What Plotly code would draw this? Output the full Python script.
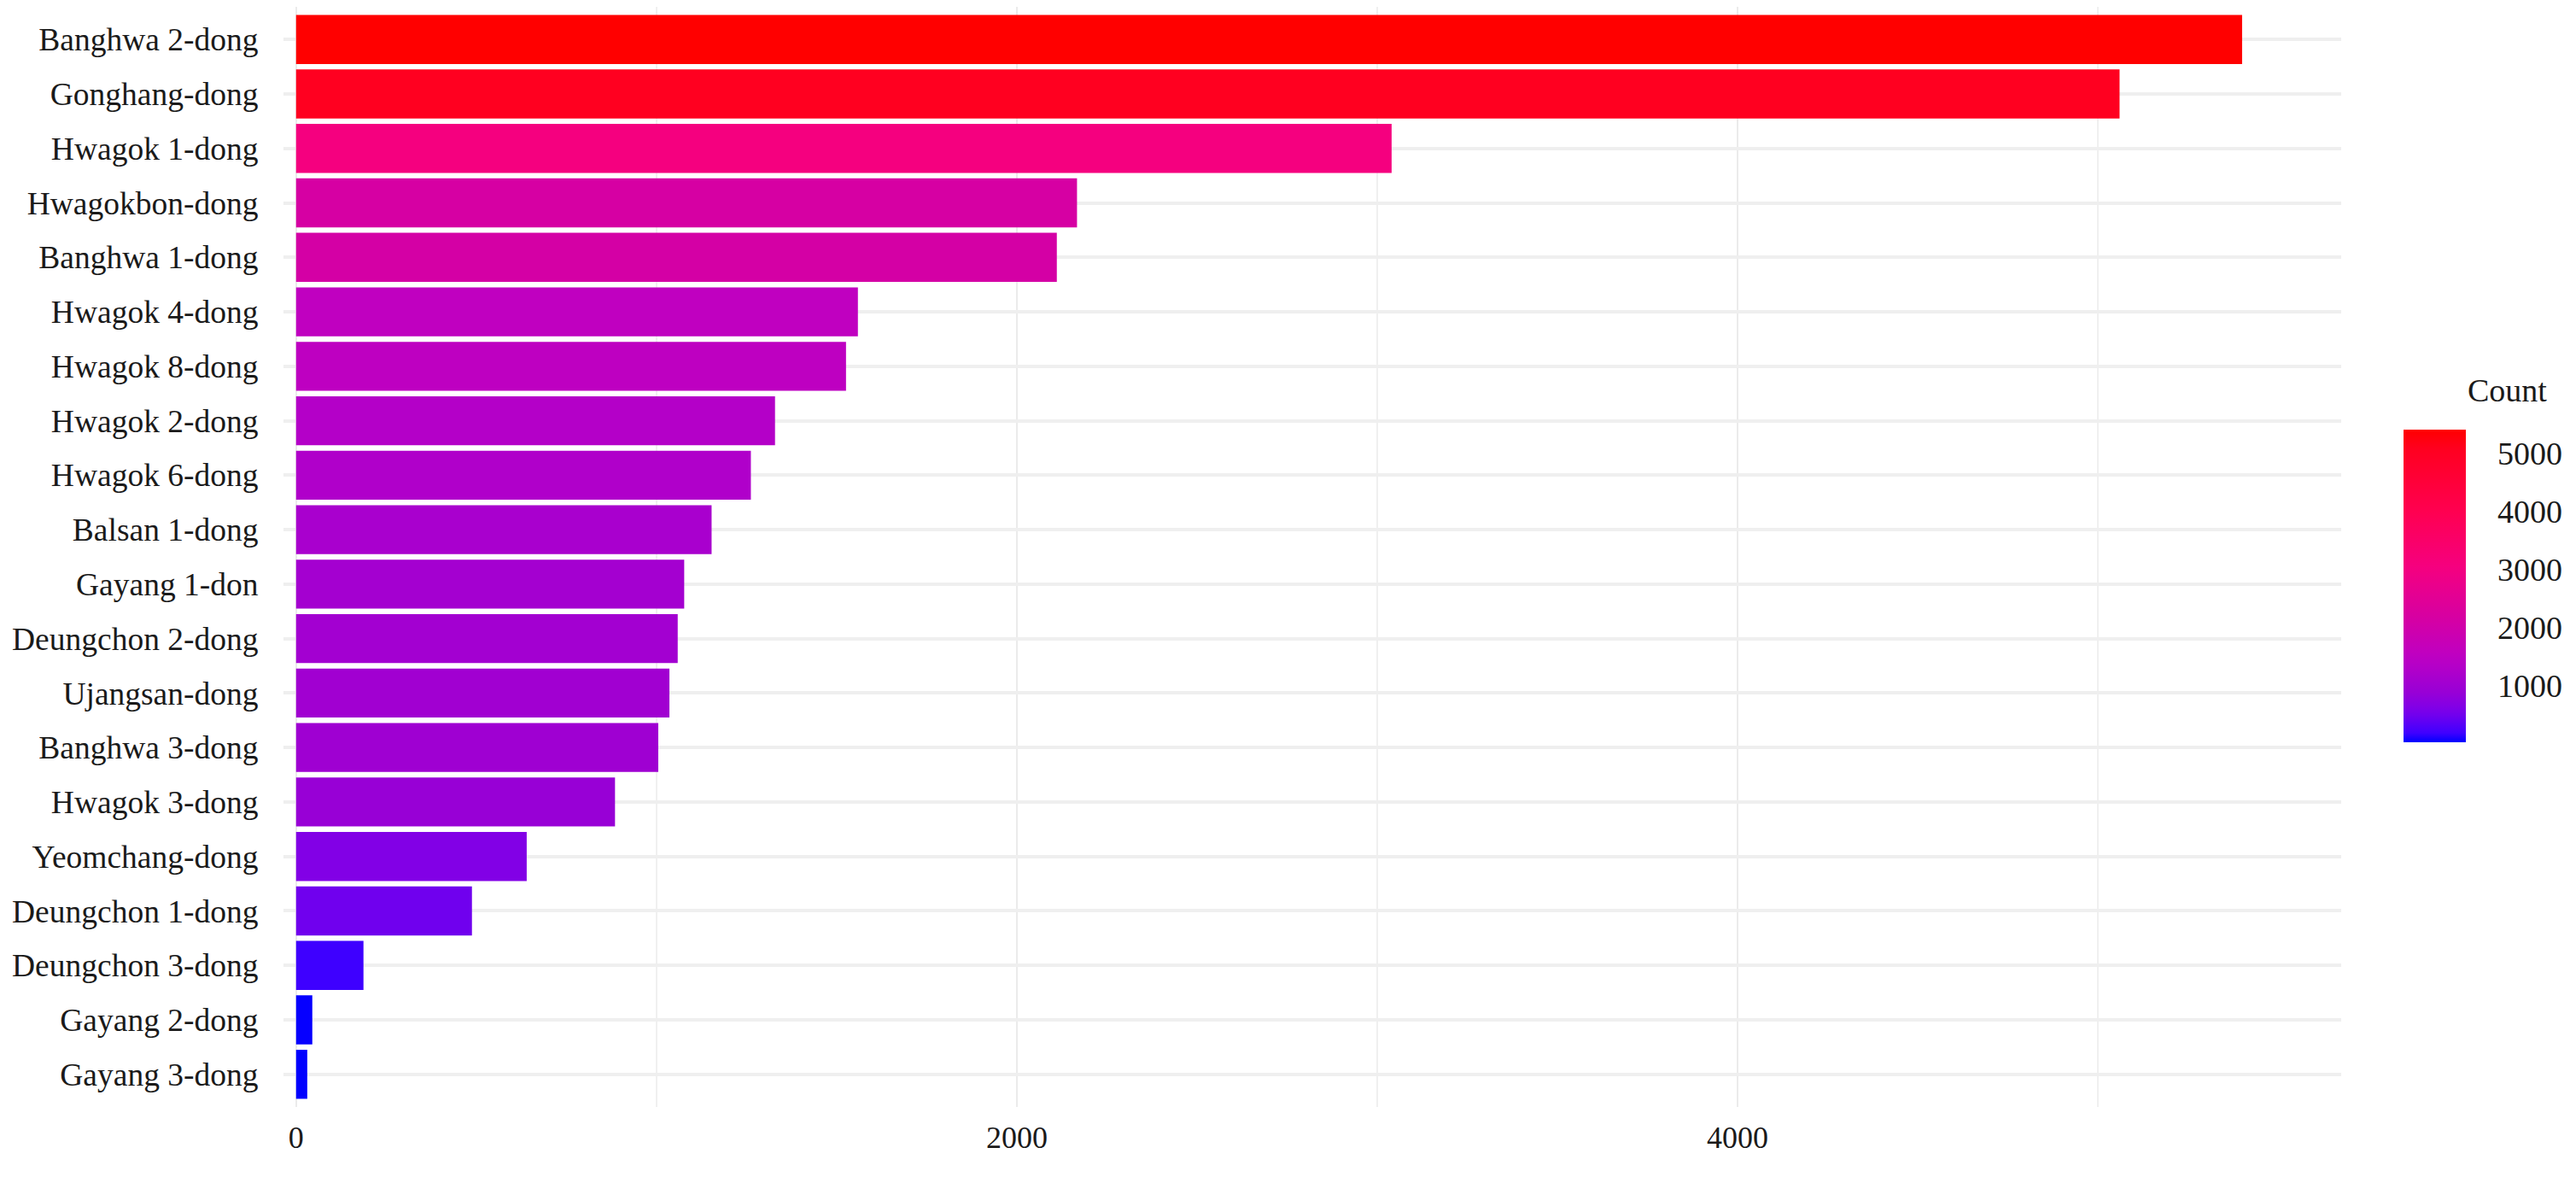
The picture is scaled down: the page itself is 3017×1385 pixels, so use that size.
import plotly.graph_objects as go

# ---------------- data ----------------
districts = [
    "Banghwa 2-dong", "Gonghang-dong", "Hwagok 1-dong", "Hwagokbon-dong",
    "Banghwa 1-dong", "Hwagok 4-dong", "Hwagok 8-dong", "Hwagok 2-dong",
    "Hwagok 6-dong", "Balsan 1-dong", "Gayang 1-don", "Deungchon 2-dong",
    "Ujangsan-dong", "Banghwa 3-dong", "Hwagok 3-dong", "Yeomchang-dong",
    "Deungchon 1-dong", "Deungchon 3-dong", "Gayang 2-dong", "Gayang 3-dong",
]
counts = [5400, 5060, 3040, 2167, 2111, 1559, 1526, 1329, 1262, 1153,
          1077, 1059, 1036, 1005, 885, 640, 488, 187, 45, 31]
x_tickvals = [0, 2000, 4000]
x_ticktext = ["0", "2000", "4000"]
cb_tickvals = [1000, 2000, 3000, 4000, 5000]

# colour ramp blue -> red as it appears in the reference (position along the scale, colour)
ramp_pos = [0.0, 0.03, 0.085, 0.113, 0.159, 0.195, 0.242, 0.285, 0.387, 0.56, 0.74, 0.937, 1.0]
ramp_col = ["#0000FF", "#4000FF", "#7000EE", "#8200E6", "#9800D6", "#A400D0",
            "#B400C8", "#C000C0", "#D400A5", "#F5007F", "#FF0050", "#FF0020", "#FF0000"]
colorscale = [[p, c] for p, c in zip(ramp_pos, ramp_col)]

# ---------------- layout geometry ----------------
W, H = 3017, 1385
ml, mt = 324, 0
plot_right, plot_bottom = 2734, 1288
mr, mb = W - plot_right, H - plot_bottom
pw = plot_right - ml
ph = plot_bottom - mt
FONT = "Liberation Serif"
TXT = "#1a1a1a"

fig = go.Figure(go.Bar(
    x=counts, y=districts, orientation="h", width=0.9,
    marker=dict(
        color=counts, colorscale=colorscale,
        cmin=min(counts), cmax=max(counts), line=dict(width=0),
        colorbar=dict(
            x=(2807 - ml) / pw, xanchor="left",
            y=(plot_bottom - 861) / ph, yanchor="bottom",
            lenmode="pixels", len=366, thickness=73,
            xpad=0, ypad=0, outlinewidth=0,
            tickvals=cb_tickvals, ticks="outside", ticklen=30,
            tickcolor="rgba(0,0,0,0)",
            tickfont=dict(family=FONT, size=38, color=TXT),
        ),
    ),
))

fig.add_annotation(
    text="Count", xref="paper", yref="paper",
    x=(2880 - ml) / pw, y=(plot_bottom - 449) / ph,
    xanchor="left", yanchor="middle", showarrow=False,
    font=dict(family=FONT, size=38, color=TXT),
)

fig.update_layout(
    width=W, height=H,
    margin=dict(l=ml, r=mr, t=mt, b=mb, autoexpand=False),
    paper_bgcolor="white", plot_bgcolor="white",
    showlegend=False,
    font=dict(family=FONT, size=36, color=TXT),
    xaxis=dict(
        range=[-35, 5675], tickvals=x_tickvals, ticktext=x_ticktext,
        showgrid=True, gridcolor="#EBEBEB", gridwidth=2,
        minor=dict(dtick=1000, tick0=0, showgrid=True, gridcolor="#F0F0F0", gridwidth=2),
        zeroline=False, showline=False,
        ticks="outside", ticklen=4, tickcolor="rgba(0,0,0,0)",
        tickfont=dict(family=FONT, size=36, color=TXT),
        automargin=False,
    ),
    yaxis=dict(
        categoryorder="array", categoryarray=districts,
        range=[len(districts) - 0.4, -0.6],
        showgrid=True, gridcolor="#EFEFEF", gridwidth=4,
        zeroline=False, showline=False,
        ticks="outside", ticklen=21, tickcolor="rgba(0,0,0,0)",
        tickfont=dict(family=FONT, size=37.5, color=TXT),
        automargin=False,
    ),
    bargap=0.1,
)

fig.write_html("out.html")
